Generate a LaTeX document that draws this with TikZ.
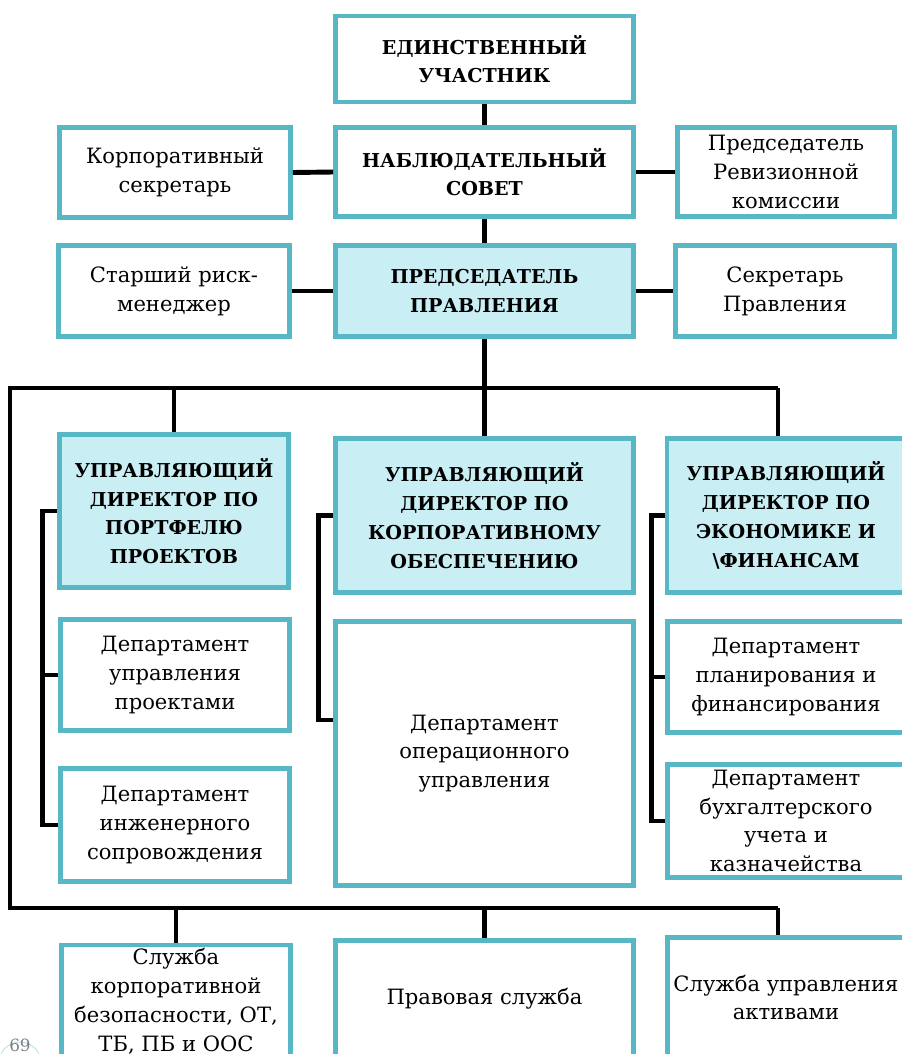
\documentclass[tikz,border=0pt]{standalone}
\usepackage{fontspec}
\setmainfont{DejaVu Serif}
\newcommand{\kpx}{0.025cm}
\definecolor{orgteal}{HTML}{58B7C5}
\definecolor{orgfill}{HTML}{C9EEF4}
\tikzset{
orgbox/.style={draw=orgteal,line width=3.5pt,fill=white,align=center,inner sep=0pt,font=\fontsize{15}{20.5}\selectfont},
orgbold/.style={orgbox,font=\bfseries\fontsize{13.6}{20.5}\selectfont},
orghead/.style={orgbold,fill=orgfill},
orglink/.style={line width=3.5pt,draw=black},
}
\begin{document}
\begin{tikzpicture}[x=\kpx,y=-\kpx]
\useasboundingbox (0,0) rectangle (902,1054);
\foreach \nm/\st/\cx/\cy/\w/\h/\txt in {
uch/orgbold/484.5/59/298/86/{ЕДИНСТВЕННЫЙ\\УЧАСТНИК},
ksec/orgbox/175/172.5/231/90/{Корпоративный\\секретарь},
nsov/orgbold/484.5/172/298/89/{НАБЛЮДАТЕЛЬНЫЙ\\СОВЕТ},
prk/orgbox/786/172/217/89/{Председатель\\Ревизионной\\комиссии},
risk/orgbox/174/291/231/91/{Старший риск-\\менеджер},
pred/orghead/484.5/291/298/91/{ПРЕДСЕДАТЕЛЬ\\ПРАВЛЕНИЯ},
sekr/orgbox/785/291/219/91/{Секретарь\\Правления},
dirA/orghead/174/511/229/153/{УПРАВЛЯЮЩИЙ\\ДИРЕКТОР ПО\\ПОРТФЕЛЮ\\ПРОЕКТОВ},
dirB/orghead/484.5/515.5/298/154/{УПРАВЛЯЮЩИЙ\\ДИРЕКТОР ПО\\КОРПОРАТИВНОМУ\\ОБЕСПЕЧЕНИЮ},
dirC/orghead/786/515.5/238/154/{УПРАВЛЯЮЩИЙ\\ДИРЕКТОР ПО\\ЭКОНОМИКЕ И\\\textbackslash ФИНАНСАМ},
dA1/orgbox/175/675/229/111/{Департамент\\управления\\проектами},
dA2/orgbox/175/825/229/113/{Департамент\\инженерного\\сопровождения},
dB1/orgbox/484.5/753.5/298/264/{Департамент\\операционного\\управления},
dC1/orgbox/786/677/237/111/{Департамент\\планирования и\\финансирования},
dC2/orgbox/786/821/237/113/{Департамент\\бухгалтерского\\учета и\\казначейства},
sA/orgbox/176/1001/229/112/{Служба\\корпоративной\\безопасности, ОТ,\\ТБ, ПБ и ООС},
sB/orgbox/484.5/999/298/117/{Правовая служба},
sC/orgbox/786/997.5/237/120/{Служба управления\\активами}}
{\node[\st,minimum width=\w*\kpx,minimum height=\h*\kpx](\nm) at (\cx,\cy){\txt};}
\draw[orglink](uch)--(nsov);
\draw[orglink](nsov)--(pred);
\draw[orglink](ksec.east)--(nsov.west);
\draw[orglink](nsov.east)--(prk.west);
\draw[orglink](risk.east)--(pred.west);
\draw[orglink](pred.east)--(sekr.west);
\coordinate(busT) at (10,388);
\coordinate(busTR) at (778,388);
\coordinate(busB) at (10,908);
\coordinate(busBR) at (778,908);
\draw[orglink](pred.south)--(pred.south|-busT);
\draw[orglink](busTR)--(busT)--(busB)--(busBR);
\draw[orglink](busT-|dirA.north)--(dirA.north);
\draw[orglink](busT-|dirB.north)--(dirB.north);
\draw[orglink](busTR)--(busTR|-dirC.north);
\draw[orglink](busB-|sA.north)--(sA.north);
\draw[orglink](busB-|sB.north)--(sB.north);
\draw[orglink](busBR)--(busBR|-sC.north);
\coordinate(dBin) at (dB1.west|-0,720);
\draw[orglink](dirA.west)--++(-15,0)|-(dA2.west);
\draw[orglink](dA1.west)--++(-15,0);
\draw[orglink](dirB.west)--++(-15,0)|-(dBin);
\draw[orglink](dirC.west)--++(-13,0)|-(dC2.west);
\draw[orglink](dC1.west)--++(-13,0);
\draw[orgteal!60,thin](20,1063) circle (21);
\node[text=gray,font=\fontsize{12}{14}\selectfont](pgnum) at (20,1045){69};
\end{tikzpicture}
\end{document}
